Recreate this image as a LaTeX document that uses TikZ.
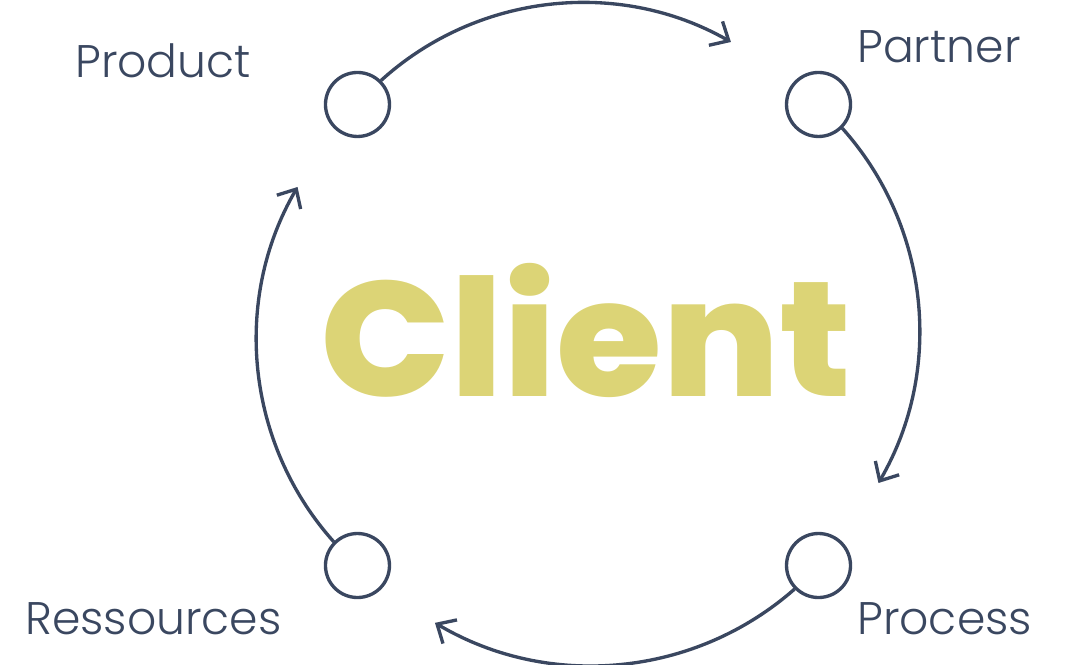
\documentclass[tikz,border=0pt]{standalone}
\usepackage{fontspec}
\usepackage{tikz}
\usetikzlibrary{arrows.meta,positioning}
\definecolor{navy}{HTML}{3A4760}
\definecolor{mustard}{HTML}{DCD476}
\newfontfamily\labelfont{Poppins Light}
\newfontfamily\clientfont{Poppins ExtraBold}

\begin{document}
\begin{tikzpicture}[
  dot/.style={circle,draw=navy,line width=1.9pt,minimum size=1.28cm,inner sep=0pt},
  lbl/.style={anchor=base west,inner sep=0pt,text=navy,font=\labelfont\fontsize{26}{30}\selectfont},
  flow/.style={->,draw=navy,line width=1.9pt,bend left=36,looseness=0.94},
  >={Straight Barb[length=3mm,width=5.5mm]}]
\useasboundingbox (0,0) rectangle (21.32,13.3);
% \draw[help lines] (0,0) grid (21,13);
\coordinate (c) at (11.76,6.6);
\node (prod) [dot] at ([shift={(135:6.52)}]c) {};
\node (part) [dot] at ([shift={(45:6.52)}]c) {};
\node (proc) [dot] at ([shift={(-45:6.52)}]c) {};
\node (res) [dot] at ([shift={(-135:6.52)}]c) {};
\coordinate (part-in) at ([shift={(64:6.52)}]c);
\coordinate (proc-in) at ([shift={(-27:6.52)}]c);
\coordinate (res-in) at ([shift={(-118:6.52)}]c);
\coordinate (prod-in) at ([shift={(153:6.52)}]c);
%
\node (tprod) [lbl] at (1.5,11.74) {Product};
\node (tpart) [lbl] at (17.14,12.04) {Partner};
\node (tres) [lbl] at (0.5,0.6) {Ressources};
\node (tproc) [lbl] at (17.14,0.6) {Process};
\node (client) [anchor=base,inner sep=0pt,xscale=1.05,text=mustard,font=\clientfont\fontsize{93}{100}\selectfont] at (11.73,5.36) {Client};
%
\path[flow] (prod) to (part-in);
\path[flow] (part) to (proc-in);
\path[flow] (proc) to (res-in);
\path[flow] (res) to (prod-in);
\end{tikzpicture}
\end{document}
